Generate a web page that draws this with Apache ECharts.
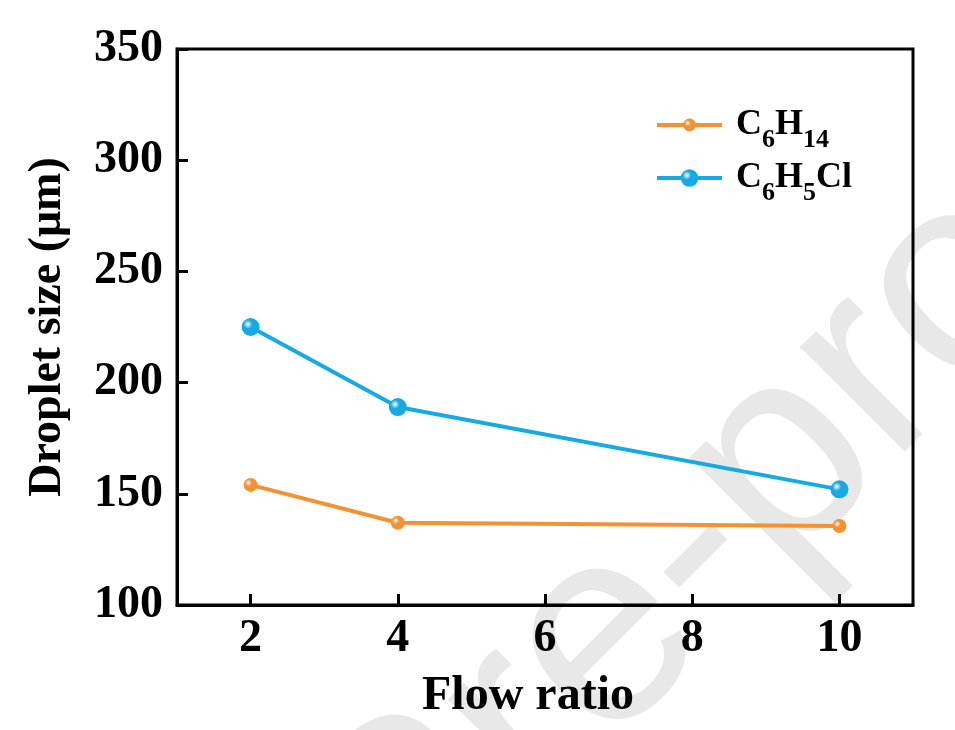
<!DOCTYPE html>
<html>
<head>
<meta charset="utf-8">
<script src="https://cdn.jsdelivr.net/npm/echarts@6/dist/echarts.min.js"></script>
<style>
  html, body { margin: 0; padding: 0; background: #fff; }
  #main { width: 955px; height: 730px; }
</style>
</head>
<body>
<div id="main"></div>
<script>
  // data
  var flowRatio = [2, 4, 10];
  var hexane = [154, 137, 135.5];       // C6H14
  var chlorobenzene = [225, 189, 152];  // C6H5Cl
  var xTicks = [2, 4, 6, 8, 10];
  var seriesNames = ['C6H14', 'C6H5Cl'];

  var FONT = '"Liberation Serif", "Times New Roman", serif';
  var ORANGE = '#F39234';
  var BLUE = '#17A9E1';

  function ball(c) {
    return new echarts.graphic.RadialGradient(0.35, 0.35, 0.7, [
      { offset: 0, color: '#ffffff' },
      { offset: 0.35, color: c },
      { offset: 1, color: c }
    ]);
  }

  function pairs(xs, ys) {
    return xs.map(function (x, i) { return [x, ys[i]]; });
  }

  // main glyphs raised 10px so the subscripts sit lower
  var richText = {
    a: { fontFamily: FONT, fontWeight: 'bold', fontSize: 36, lineHeight: 36, color: '#000', verticalAlign: 'bottom', padding: [10, 0, 10, 0] },
    s: { fontFamily: FONT, fontWeight: 'bold', fontSize: 26, lineHeight: 26, color: '#000', verticalAlign: 'bottom' }
  };

  function legendLabel(n) {
    if (n === 'C6H14') return '{a|C}{s|6}{a|H}{s|14}';
    return '{a|C}{s|6}{a|H}{s|5}{a|Cl}';
  }

  function makeLegend(name, top, h, color) {
    return {
      left: 655,
      top: top,
      padding: 0,
      itemWidth: 65,
      itemHeight: h,
      data: [{ name: name, lineStyle: { width: 4, color: color } }],
      formatter: legendLabel,
      textStyle: { padding: [20, 0, 0, 9], rich: richText }
    };
  }

  var chart = echarts.init(document.getElementById('main'));

  var option = {
    backgroundColor: '#fff',
    animation: false,
    graphic: [{
      type: 'text',
      z: -10,
      silent: true,
      x: 765,
      y: 482,
      rotation: Math.PI / 4,
      style: {
        text: 'Pre-proof',
        font: '280px "Liberation Sans", Arial, sans-serif',
        fill: '#e8e8e8',
        align: 'center',
        verticalAlign: 'middle'
      }
    }],
    grid: {
      left: 177, right: 42, top: 49, bottom: 125,
      show: true, borderColor: '#000', borderWidth: 3, backgroundColor: 'transparent'
    },
    legend: [
      makeLegend(seriesNames[0], 97, 16, ORANGE),
      makeLegend(seriesNames[1], 150, 22, BLUE)
    ],
    xAxis: {
      type: 'value',
      min: 1,
      max: 11,
      name: 'Flow ratio',
      nameLocation: 'middle',
      nameGap: 68,
      nameTextStyle: { fontFamily: FONT, fontWeight: 'bold', fontSize: 48, color: '#000', padding: [0, 34, 0, 0] },
      axisLine: { show: true, lineStyle: { color: '#000', width: 3 } },
      axisTick: { show: true, inside: true, length: 11, lineStyle: { color: '#000', width: 3 }, customValues: xTicks },
      axisLabel: { fontFamily: FONT, fontWeight: 'bold', fontSize: 46, color: '#000', margin: 11, customValues: xTicks },
      splitLine: { show: false }
    },
    yAxis: {
      type: 'value',
      min: 100,
      max: 350,
      interval: 50,
      name: 'Droplet size (μm)',
      nameLocation: 'middle',
      nameGap: 106,
      nameTextStyle: { fontFamily: FONT, fontWeight: 'bold', fontSize: 46, color: '#000' },
      axisLine: { show: true, lineStyle: { color: '#000', width: 3 } },
      axisTick: { show: true, inside: true, length: 11, lineStyle: { color: '#000', width: 3 } },
      axisLabel: { fontFamily: FONT, fontWeight: 'bold', fontSize: 46, color: '#000', margin: 14 },
      splitLine: { show: false }
    },
    series: [{
      name: seriesNames[0],
      type: 'line',
      data: pairs(flowRatio, hexane),
      symbol: 'circle',
      symbolSize: 14,
      lineStyle: { color: ORANGE, width: 4 },
      itemStyle: { color: ball(ORANGE) }
    }, {
      name: seriesNames[1],
      type: 'line',
      data: pairs(flowRatio, chlorobenzene),
      symbol: 'circle',
      symbolSize: 18,
      lineStyle: { color: BLUE, width: 4 },
      itemStyle: { color: ball(BLUE) }
    }]
  };

  chart.setOption(option);
</script>
</body>
</html>
